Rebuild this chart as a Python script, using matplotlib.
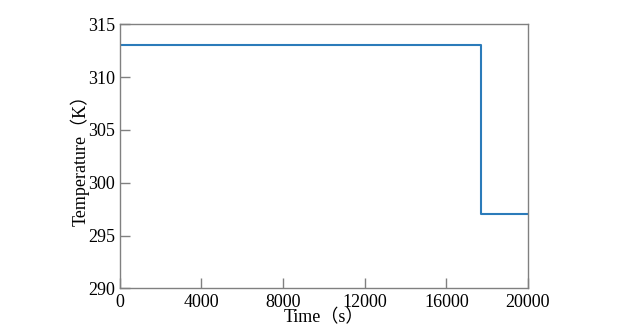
import matplotlib.pyplot as plt

# temperature step profile
time_s = [0, 17700, 17700, 20000]
temp_k = [313, 313, 297, 297]

xticks = [0, 4000, 8000, 12000, 16000, 20000]
yticks = [290, 295, 300, 305, 310, 315]

fam = ['Liberation Serif', 'Noto Sans CJK SC']
plt.rcParams['font.family'] = fam

fig = plt.figure(figsize=(6.26, 3.29), dpi=100)
ax = fig.add_axes([119.5 / 626, 1 - 288.3 / 329, 408.5 / 626, 264 / 329])

ax.plot(time_s, temp_k, color='#2b7bba', lw=1.5)
ax.set_xlim(0, 20000)
ax.set_ylim(290, 315)
ax.set_xticks(xticks)
ax.set_yticks(yticks)

for s in ax.spines.values():
    s.set_color('#808080')
    s.set_linewidth(1.0)
ax.tick_params(direction='in', length=7, width=1.0, color='#808080',
               labelsize=13, top=False, right=False)
ax.tick_params(axis='x', pad=4)
ax.tick_params(axis='y', pad=3)

ax.set_xlabel('Time（s）', fontsize=13)
ax.xaxis.set_label_coords(0.5, -0.08)
ax.xaxis.label.set_va('top')
ax.set_ylabel('Temperature（K）', fontsize=13)
ax.yaxis.set_label_coords(-0.072, 0.5)

fig.savefig('out.png', dpi=100)
